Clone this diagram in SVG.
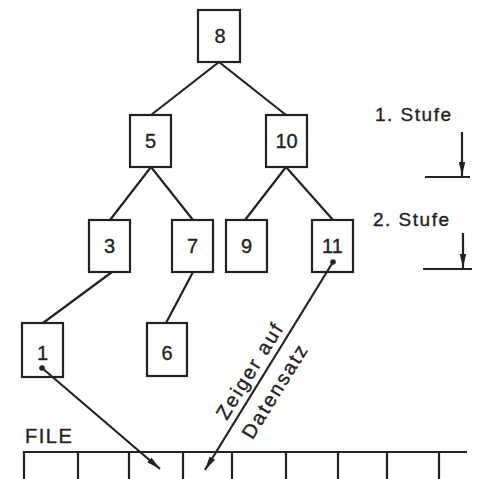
<svg xmlns="http://www.w3.org/2000/svg" width="477" height="479" viewBox="0 0 477 479">
  <style>
    .box { fill: #ffffff; stroke: #222; stroke-width: 2.2; }
    .edge { fill: none; stroke: #222; stroke-width: 2.2; }
    .lbl { font-family: "Liberation Sans", "DejaVu Sans", sans-serif; font-size: 20px; fill: #222; stroke: #222; stroke-width: 0.35; text-anchor: middle; }
    .note { font-family: "Liberation Sans", "DejaVu Sans", sans-serif; font-size: 19px; fill: #222; stroke: #222; stroke-width: 0.35; letter-spacing: 1.5px; }
    .dot { fill: #222; }
  </style>
  <defs>
    <marker id="head" markerUnits="userSpaceOnUse" markerWidth="15" markerHeight="8" refX="14" refY="4" orient="auto">
      <path d="M0,0.8 L14,4 L0,7.2 Z" fill="#222"/>
    </marker>
  </defs>

  <rect width="477" height="479" fill="#ffffff"/>

  <!-- tree nodes -->
  <g id="n8"><rect class="box" x="198" y="10" width="42" height="52"/><text class="lbl" x="220" y="43">8</text></g>
  <g id="n5"><rect class="box" x="130" y="115" width="41" height="52"/><text class="lbl" x="150.5" y="148">5</text></g>
  <g id="n10"><rect class="box" x="266" y="115" width="41" height="52"/><text class="lbl" x="286.5" y="148">10</text></g>
  <g id="n3"><rect class="box" x="89" y="220" width="41" height="52"/><text class="lbl" x="109.5" y="253">3</text></g>
  <g id="n7"><rect class="box" x="172" y="220" width="41" height="52"/><text class="lbl" x="192.5" y="253">7</text></g>
  <g id="n9"><rect class="box" x="226" y="220" width="41" height="52"/><text class="lbl" x="246.5" y="253">9</text></g>
  <g id="n11"><rect class="box" x="312" y="220" width="41" height="52"/><text class="lbl" x="332.5" y="253">11</text></g>
  <g id="n1"><rect class="box" x="22" y="323" width="41" height="54"/><text class="lbl" x="42.5" y="360">1</text></g>
  <g id="n6"><rect class="box" x="147" y="323" width="40" height="53"/><text class="lbl" x="167" y="360">6</text></g>

  <!-- tree edges and record pointers -->
  <g id="connectors" class="edge">
    <line x1="219" y1="62" x2="151" y2="115"/>
    <line x1="219" y1="62" x2="286" y2="115"/>
    <line x1="151" y1="167" x2="110" y2="220"/>
    <line x1="151" y1="167" x2="193" y2="220"/>
    <line x1="286" y1="167" x2="245" y2="220"/>
    <line x1="286" y1="167" x2="333" y2="220"/>
    <line x1="112" y1="272" x2="43" y2="323"/>
    <line x1="193" y1="272" x2="166" y2="323"/>
    <line x1="42" y1="368" x2="160" y2="469" marker-end="url(#head)"/>
    <line x1="333" y1="262" x2="205" y2="470" marker-end="url(#head)"/>
    <circle class="dot" cx="42" cy="368" r="2.8" stroke="none"/>
    <circle class="dot" cx="333" cy="262" r="2.8" stroke="none"/>
  </g>

  <!-- level markers -->
  <g id="stufe1">
    <text class="note" x="375" y="121">1. Stufe</text>
    <line class="edge" x1="462" y1="132" x2="462" y2="176" marker-end="url(#head)"/>
    <line class="edge" x1="425" y1="177" x2="470" y2="177"/>
  </g>
  <g id="stufe2">
    <text class="note" x="373" y="226">2. Stufe</text>
    <line class="edge" x1="463" y1="233" x2="463" y2="268" marker-end="url(#head)"/>
    <line class="edge" x1="423" y1="269" x2="472" y2="269"/>
  </g>

  <!-- pointer caption -->
  <g id="caption" transform="translate(269,366) rotate(-58.3)">
    <text class="lbl" x="-14" y="-7" style="font-size:20px;letter-spacing:2px">Zeiger auf</text>
    <text class="lbl" x="-18" y="25" style="font-size:20px;letter-spacing:2px">Datensatz</text>
  </g>

  <!-- file of records -->
  <g id="file">
    <text class="note" x="25" y="443" style="font-size:20px">FILE</text>
    <line class="edge" x1="23" y1="452" x2="467" y2="452"/>
    <g class="edge">
      <line x1="24" y1="451" x2="24" y2="479"/>
      <line x1="78" y1="452" x2="78" y2="479"/>
      <line x1="129" y1="452" x2="129" y2="479"/>
      <line x1="183" y1="452" x2="183" y2="479"/>
      <line x1="232" y1="452" x2="232" y2="479"/>
      <line x1="286" y1="452" x2="286" y2="479"/>
      <line x1="338" y1="452" x2="338" y2="479"/>
      <line x1="387" y1="452" x2="387" y2="479"/>
      <line x1="439" y1="452" x2="439" y2="479"/>
    </g>
  </g>
</svg>
